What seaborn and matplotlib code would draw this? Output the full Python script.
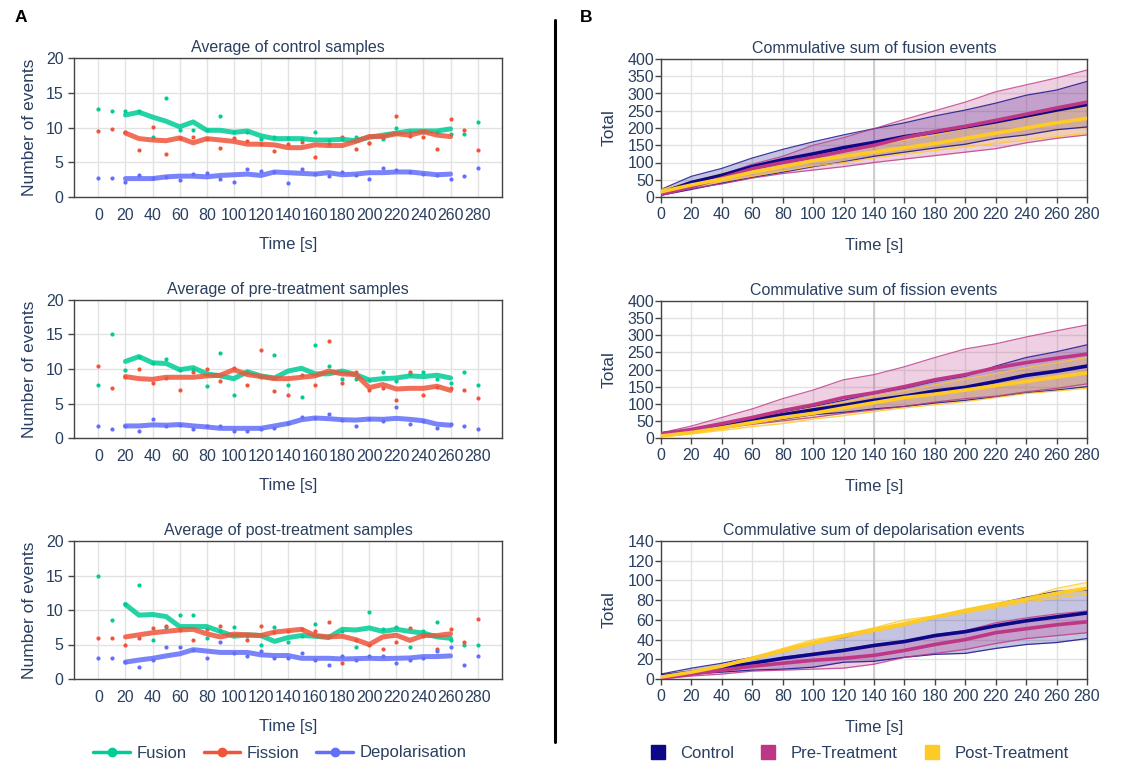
import matplotlib
matplotlib.use("Agg")
import matplotlib.pyplot as plt
from matplotlib.lines import Line2D
import seaborn as sns

# ---- left column: averages per 10 s bin (dots) and rolling average (lines)
times_pts = list(range(0, 290, 10))
times_avg = list(range(20, 270, 10))

ctrl_fus_pts = [12.7, 12.4, 12.4, 12.4, 8.6, 14.3, 9.7, 9.7, 9.6, 11.7, 9.3, 9.4, 8.3, 8.6, 8.5,
                8.4, 9.4, 8.2, 8.3, 8.6, 7.8, 8.3, 10.0, 9.3, 9.4, 9.4, 9.0, 9.1, 10.8]
ctrl_fus_avg = [11.8, 12.2, 11.5, 10.9, 10.1, 10.8, 9.6, 9.6, 9.3, 9.5, 8.8, 8.4, 8.4, 8.4, 8.2,
                8.2, 8.3, 8.1, 8.6, 8.9, 9.2, 9.5, 9.5, 9.5, 9.8]
ctrl_fis_pts = [9.55, 9.8, 9.3, 6.7, 10.1, 6.2, 8.5, 8.7, 8.4, 7.1, 8.5, 8.0, 7.6, 6.6, 7.6,
                7.9, 5.7, 7.6, 8.6, 6.9, 7.8, 8.7, 11.6, 8.8, 8.7, 6.9, 11.2, 9.7, 6.7]
ctrl_fis_avg = [9.2, 8.4, 8.2, 8.1, 8.5, 7.8, 8.4, 8.2, 8.0, 7.6, 7.6, 7.5, 7.1, 7.1, 7.5,
                7.4, 7.4, 8.0, 8.7, 8.7, 9.1, 8.9, 9.4, 8.9, 8.7]
ctrl_dep_pts = [2.75, 2.75, 2.2, 3.1, 2.7, 2.9, 2.4, 3.3, 3.5, 2.55, 2.2, 4.0, 3.8, 3.6, 2.0,
                4.1, 3.3, 3.0, 3.6, 3.2, 2.6, 4.2, 3.85, 3.6, 3.3, 3.2, 2.55, 3.0, 4.2]
ctrl_dep_avg = [2.65, 2.65, 2.65, 2.9, 3.0, 3.0, 2.9, 3.1, 3.2, 3.3, 3.1, 3.6, 3.5, 3.4, 3.3,
                3.5, 3.2, 3.3, 3.5, 3.5, 3.6, 3.6, 3.4, 3.2, 3.3]

pre_fus_pts = [7.75, 15.0, 9.8, 11.7, 10.8, 11.5, 9.9, 10.0, 7.5, 12.3, 6.25, 9.5, 8.8, 12.0, 7.75,
               6.0, 13.5, 10.5, 8.5, 8.5, 8.4, 9.5, 8.3, 9.3, 9.5, 8.5, 8.0, 9.5, 7.75]
pre_fus_avg = [11.1, 11.8, 10.9, 10.8, 9.9, 10.2, 9.3, 9.0, 8.6, 9.6, 9.0, 8.7, 9.7, 10.1, 9.3,
               9.3, 9.7, 9.2, 8.4, 8.6, 8.7, 9.0, 8.9, 9.1, 8.7]
pre_fis_pts = [10.5, 7.25, 8.9, 10.0, 8.0, 8.7, 7.0, 9.5, 10.0, 8.2, 10.2, 7.75, 12.8, 6.75, 6.25,
               9.2, 7.75, 14.0, 8.0, 9.5, 7.0, 7.25, 5.5, 9.5, 6.25, 7.4, 7.25, 7.0, 5.75]
pre_fis_avg = [8.9, 8.6, 8.5, 8.8, 8.8, 8.8, 9.0, 9.1, 9.9, 9.2, 8.9, 8.6, 8.6, 8.8, 9.0,
               9.7, 9.3, 9.2, 7.3, 7.75, 7.1, 7.2, 7.2, 7.5, 6.9]
pre_dep_pts = [1.75, 1.25, 1.7, 1.0, 2.75, 1.75, 1.9, 1.3, 1.7, 1.7, 1.0, 1.0, 1.3, 1.5, 2.2,
               3.0, 2.9, 3.5, 2.6, 1.75, 2.7, 2.5, 4.5, 2.0, 2.4, 1.5, 2.0, 1.75, 1.25]
pre_dep_avg = [1.75, 1.75, 1.9, 1.85, 1.95, 1.75, 1.6, 1.4, 1.4, 1.4, 1.4, 1.75, 2.1, 2.65, 2.9,
               2.8, 2.65, 2.6, 2.75, 2.7, 2.85, 2.7, 2.5, 2.0, 1.85]

post_fus_pts = [15.0, 8.6, 10.8, 13.6, 5.7, 7.5, 9.3, 9.3, 6.0, 7.0, 7.6, 6.2, 5.0, 7.6, 5.35,
                6.3, 8.0, 6.2, 7.0, 4.7, 9.7, 7.3, 7.5, 4.7, 7.0, 8.3, 5.7, 5.0, 5.0]
post_fus_avg = [10.8, 9.25, 9.35, 9.05, 7.6, 7.6, 7.6, 6.9, 6.2, 6.4, 6.3, 5.45, 6.0, 6.3, 6.2,
                6.0, 7.2, 7.1, 7.4, 6.9, 7.2, 6.9, 6.65, 6.1, 5.9]
post_fis_pts = [6.0, 6.0, 5.0, 6.0, 7.35, 7.7, 7.1, 5.7, 7.3, 7.7, 6.4, 5.7, 7.7, 6.8, 7.0,
                7.2, 7.0, 8.3, 2.3, 5.6, 5.0, 4.3, 5.3, 7.35, 6.2, 4.3, 7.3, 5.3, 8.7]
post_fis_avg = [6.1, 6.4, 6.7, 6.9, 7.1, 7.2, 6.55, 6.1, 6.5, 6.4, 6.3, 6.8, 7.0, 7.2, 6.3,
                6.1, 6.2, 5.7, 5.0, 6.1, 6.35, 5.6, 6.3, 6.3, 6.55]
post_dep_pts = [3.0, 3.0, 2.4, 1.7, 2.8, 4.7, 4.7, 4.2, 3.0, 5.35, 3.8, 3.4, 4.0, 3.0, 3.0,
                3.7, 2.75, 2.0, 3.4, 2.7, 3.4, 3.4, 2.3, 2.7, 3.0, 4.0, 4.7, 2.0, 3.4]
post_dep_avg = [2.45, 2.75, 3.0, 3.35, 3.65, 4.25, 4.05, 3.85, 3.85, 3.85, 3.5, 3.4, 3.4, 3.0, 3.0,
                3.0, 2.9, 2.95, 3.0, 2.95, 3.0, 3.05, 3.25, 3.25, 3.35]

# ---- right column: cumulative sums, mean with min/max band
times_cum = list(range(0, 300, 20))

fus_ctrl_mean = [12, 42, 63, 88, 108, 125, 143, 158, 175, 188, 203, 218, 235, 252, 268]
fus_ctrl_hi = [22, 60, 83, 113, 138, 160, 180, 198, 215, 235, 252, 272, 295, 310, 335]
fus_ctrl_lo = [5, 22, 40, 57, 72, 88, 102, 118, 130, 142, 153, 170, 180, 195, 203]
fus_pre_mean = [8, 30, 55, 82, 100, 115, 133, 150, 172, 190, 205, 222, 240, 258, 275]
fus_pre_hi = [15, 45, 65, 95, 118, 150, 172, 198, 225, 250, 275, 305, 325, 345, 368]
fus_pre_lo = [5, 25, 38, 55, 68, 78, 88, 100, 110, 120, 130, 140, 157, 170, 180]
fus_post_mean = [15, 35, 52, 72, 88, 105, 118, 130, 143, 155, 170, 185, 200, 215, 228]
fus_post_hi = [22, 43, 68, 85, 100, 118, 130, 148, 165, 180, 198, 215, 230, 248, 262]
fus_post_lo = [10, 28, 45, 60, 75, 90, 100, 113, 125, 135, 145, 155, 165, 175, 185]

fis_ctrl_mean = [12, 22, 37, 53, 68, 82, 95, 110, 122, 137, 148, 165, 183, 195, 210]
fis_ctrl_hi = [15, 25, 42, 58, 76, 92, 110, 130, 145, 165, 180, 210, 235, 252, 272]
fis_ctrl_lo = [8, 18, 30, 42, 55, 68, 75, 85, 92, 102, 110, 120, 132, 140, 150]
fis_pre_mean = [12, 25, 42, 60, 80, 97, 118, 132, 150, 170, 185, 205, 220, 233, 245]
fis_pre_hi = [15, 35, 60, 85, 115, 140, 170, 185, 208, 235, 260, 275, 295, 313, 330]
fis_pre_lo = [8, 18, 28, 40, 50, 60, 72, 82, 92, 105, 115, 122, 135, 145, 158]
fis_post_mean = [6, 16, 30, 45, 60, 72, 88, 103, 118, 128, 140, 153, 165, 178, 190]
fis_post_hi = [10, 20, 38, 55, 72, 88, 105, 122, 138, 155, 172, 188, 205, 220, 235]
fis_post_lo = [3, 12, 22, 33, 42, 55, 65, 77, 88, 97, 106, 118, 130, 137, 145]

dep_ctrl_mean = [3, 7, 11, 16, 21, 25, 29, 34, 38, 44, 48, 54, 59, 63, 67]
dep_ctrl_hi = [5, 11, 16, 22, 29, 37, 42, 50, 55, 63, 70, 76, 83, 89, 90]
dep_ctrl_lo = [1, 5, 7, 9, 10, 12, 17, 18, 22, 25, 26, 31, 35, 37, 41]
dep_pre_mean = [1, 5, 9, 13, 16, 19, 21, 24, 29, 35, 40, 47, 51, 55, 58]
dep_pre_hi = [2, 7, 11, 16, 22, 26, 30, 35, 38, 45, 49, 57, 62, 66, 69]
dep_pre_lo = [0, 3, 5, 8, 9, 10, 11, 15, 22, 26, 30, 36, 41, 44, 47]
dep_post_mean = [2, 7, 13, 21, 29, 37, 44, 50, 56, 63, 69, 75, 81, 87, 92]
dep_post_hi = [3, 8, 14, 22, 31, 40, 45, 52, 60, 64, 71, 77, 82, 92, 98]
dep_post_lo = [1, 6, 12, 20, 27, 35, 42, 48, 54, 62, 67, 72, 78, 82, 86]

event_names = ["Fusion", "Fission", "Depolarisation"]
event_colors = ["#00cc96", "#EF553B", "#636EFA"]
group_names = ["Control", "Pre-Treatment", "Post-Treatment"]
group_colors = ["#0d0887", "#bd3786", "#fdca26"]

left_titles = ["Average of control samples", "Average of pre-treatment samples",
               "Average of post-treatment samples"]
right_titles = ["Commulative sum of fusion events", "Commulative sum of fission events",
                "Commulative sum of depolarisation events"]

left_data = [
    [(ctrl_fus_pts, ctrl_fus_avg), (ctrl_fis_pts, ctrl_fis_avg), (ctrl_dep_pts, ctrl_dep_avg)],
    [(pre_fus_pts, pre_fus_avg), (pre_fis_pts, pre_fis_avg), (pre_dep_pts, pre_dep_avg)],
    [(post_fus_pts, post_fus_avg), (post_fis_pts, post_fis_avg), (post_dep_pts, post_dep_avg)],
]
right_data = [
    [(fus_ctrl_mean, fus_ctrl_lo, fus_ctrl_hi), (fus_pre_mean, fus_pre_lo, fus_pre_hi),
     (fus_post_mean, fus_post_lo, fus_post_hi)],
    [(fis_ctrl_mean, fis_ctrl_lo, fis_ctrl_hi), (fis_pre_mean, fis_pre_lo, fis_pre_hi),
     (fis_post_mean, fis_post_lo, fis_post_hi)],
    [(dep_ctrl_mean, dep_ctrl_lo, dep_ctrl_hi), (dep_pre_mean, dep_pre_lo, dep_pre_hi),
     (dep_post_mean, dep_post_lo, dep_post_hi)],
]
right_ylims = [(0, 400, 50), (0, 400, 50), (0, 140, 20)]

sns.set_theme(style="whitegrid")
plt.rcParams["font.family"] = ["Liberation Sans", "DejaVu Sans"]
text_color = "#2a3f5f"
plt.rcParams.update({
    "text.color": text_color,
    "axes.labelcolor": text_color,
    "xtick.color": "#444444",
    "ytick.color": "#444444",
    "xtick.labelcolor": text_color,
    "ytick.labelcolor": text_color,
    "grid.color": "#e2e2e2",
    "grid.linewidth": 1.0,
})

fig = plt.figure(figsize=(11.29, 7.65), dpi=100)
W, H = 1129, 765

left_rows = [(58, 197), (300, 438), (541, 679)]
right_rows = [(59, 197), (301, 438), (541, 679)]


def make_axes(x0, x1, y0, y1):
    return fig.add_axes([x0 / W, 1 - y1 / H, (x1 - x0) / W, (y1 - y0) / H])


def style_axes(ax):
    for sp in ax.spines.values():
        sp.set_color("#444444")
        sp.set_linewidth(1.0)
    ax.tick_params(axis="both", labelsize=11.5, length=4, width=1, direction="out")
    ax.tick_params(axis="y", left=True)
    ax.tick_params(axis="x", bottom=True)


# left column
for i, (y0, y1) in enumerate(left_rows):
    ax = make_axes(74, 502, y0, y1)
    for (pts, avg), col in zip(left_data[i], event_colors):
        sns.scatterplot(x=times_pts, y=pts, ax=ax, color=col, s=9, linewidth=0, zorder=3)
        sns.lineplot(x=times_avg, y=avg, ax=ax, color=col, linewidth=3.6, alpha=0.85, zorder=4)
    ax.set_xlim(-18, 298)
    ax.set_ylim(0, 20)
    ax.set_xticks(range(0, 281, 20))
    ax.set_yticks(range(0, 21, 5))
    ax.set_title(left_titles[i], fontsize=11.5, pad=4)
    ax.set_xlabel("Time [s]", fontsize=12, labelpad=10)
    ax.set_ylabel("Number of events", fontsize=12.5, labelpad=6)
    style_axes(ax)
    ax.tick_params(axis="x", pad=8, length=0)

# right column
for i, (y0, y1) in enumerate(right_rows):
    ax = make_axes(661, 1087, y0, y1)
    for (mean, lo, hi), col in zip(right_data[i], group_colors):
        ax.fill_between(times_cum, lo, hi, color=col, alpha=0.24, linewidth=0, zorder=2)
        sns.lineplot(x=times_cum, y=lo, ax=ax, color=col, linewidth=0.9, alpha=0.8, zorder=3)
        sns.lineplot(x=times_cum, y=hi, ax=ax, color=col, linewidth=0.9, alpha=0.8, zorder=3)
    for (mean, lo, hi), col in zip(right_data[i], group_colors):
        sns.lineplot(x=times_cum, y=mean, ax=ax, color=col, linewidth=2.6, zorder=4)
    lo_y, hi_y, step = right_ylims[i]
    ax.set_xlim(0, 280)
    ax.set_ylim(lo_y, hi_y)
    ax.set_xticks(range(0, 281, 20))
    ax.set_yticks(range(lo_y, hi_y + 1, step))
    ax.axvline(140, color="#c8c8c8", linewidth=1.2, zorder=1)
    ax.set_title(right_titles[i], fontsize=11.5, pad=4)
    ax.set_xlabel("Time [s]", fontsize=12, labelpad=11)
    ax.set_ylabel("Total", fontsize=12.5, labelpad=8)
    style_axes(ax)
    ax.tick_params(axis="y", pad=1)

# panel letters and separator
fig.text(15 / W, 1 - 18 / H, "A", fontsize=12.5, fontweight="bold", color="black", va="center")
fig.text(580 / W, 1 - 18 / H, "B", fontsize=12.5, fontweight="bold", color="black", va="center")
fig.add_artist(Line2D([555 / W, 555 / W], [1 - 20 / H, 1 - 742 / H], color="black", linewidth=2.2))

# legends
left_handles = [Line2D([0], [0], color=c, linewidth=2.5, marker="o", markersize=6) for c in event_colors]
fig.legend(left_handles, event_names, loc="center", bbox_to_anchor=(280 / W, 1 - 753 / H),
           ncol=3, frameon=False, fontsize=12, handlelength=2.2, columnspacing=1.0,
           handletextpad=0.4)
right_handles = [Line2D([0], [0], color=c, linestyle="none", marker="s", markersize=10) for c in group_colors]
fig.legend(right_handles, group_names, loc="center", bbox_to_anchor=(857 / W, 1 - 753 / H),
           ncol=3, frameon=False, fontsize=12, handlelength=1.5, columnspacing=1.3,
           handletextpad=0.6)

fig.savefig("out.png", dpi=100)
